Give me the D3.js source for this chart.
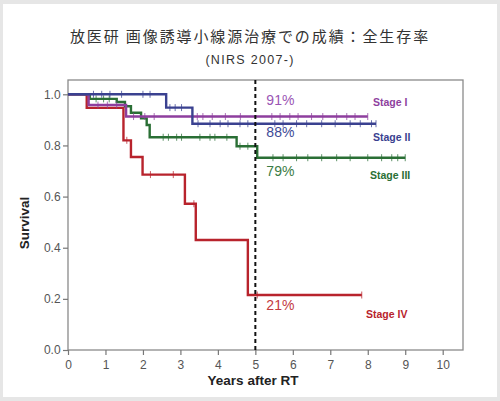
<!DOCTYPE html>
<html>
<head>
<meta charset="utf-8">
<script src="https://cdn.jsdelivr.net/npm/d3@7"></script>
<style>
    html, body { margin: 0; padding: 0; background: #e6e6e6; }
    svg { display: block; }
    .axis_label { font-family: Arial, "Liberation Sans", sans-serif; font-weight: bold; font-size: 13.5px; fill: #222; }
</style>
</head>
<body>
<div id="container"><svg></svg></div>
<script>
let width = 500;
let height = 401;

// Kaplan-Meier steps: event times and survival after each step
let stage1_time = [0, 0.55, 1.55];
let stage1_surv = [1.0, 0.958, 0.913];
let stage1_end = 8.0;
let stage1_censor = [0.8, 1.05, 1.3, 1.75, 2.05, 2.3, 3.45, 3.6, 3.85, 4.2, 4.6, 5.44, 5.66, 5.92, 6.14, 6.5, 6.8, 7.17, 7.44, 7.66, 8.0];

let stage2_time = [0, 2.62, 3.32];
let stage2_surv = [1.0, 0.948, 0.885];
let stage2_end = 8.22;
let stage2_censor = [0.68, 0.9, 1.12, 1.43, 2.0, 2.19, 2.72, 2.86, 3.03, 3.47, 3.79, 4.06, 4.27, 4.59, 4.8, 5.52, 5.74, 6.1, 6.37, 6.77, 7.13, 7.53, 7.8, 8.1, 8.22];

let stage3_time = [0, 0.58, 1.3, 1.52, 1.68, 1.95, 2.1, 2.18, 4.5, 5.05];
let stage3_surv = [1.0, 0.982, 0.97, 0.953, 0.928, 0.906, 0.88, 0.832, 0.797, 0.752];
let stage3_end = 9.0;
let stage3_censor = [0.75, 0.95, 1.1, 2.54, 2.68, 2.9, 3.03, 3.52, 3.79, 3.92, 4.24, 4.59, 4.8, 5.47, 5.74, 6.1, 6.4, 6.77, 7.17, 7.53, 8.0, 8.37, 8.64, 8.8, 9.0];

let stage4_time = [0, 0.5, 1.48, 1.68, 1.99, 3.12, 3.41, 4.8];
let stage4_surv = [1.0, 0.947, 0.82, 0.755, 0.686, 0.572, 0.43, 0.215];
let stage4_end = 7.84;
let stage4_censor = [1.57, 2.2, 2.81, 3.36, 5.05, 7.84];

let stage_names = ['Stage I', 'Stage II', 'Stage III', 'Stage IV'];
let stage_pct = ['91%', '88%', '79%', '21%'];
let stage_colors = ['#8e3f9e', '#3a4190', '#2a6f35', '#b8232c'];
let pct_colors = ['#9a55b4', '#3d4a96', '#3b7c45', '#c33a3f'];

let y_ticks = [0.0, 0.2, 0.4, 0.6, 0.8, 1.0];
let x_ticks = [0, 1, 2, 3, 4, 5, 6, 7, 8, 9, 10];
let landmark = 5;

let title_text = '放医研 画像誘導小線源治療での成績：全生存率';
let subtitle_text = '(NIRS 2007-)';

function surv_at(times, survs, t) {
    let s = survs[0];
    for (var i = 0; i < times.length; i++) {
        if (times[i] <= t) s = survs[i];
    }
    return s;
}

function draw_main() {
    let svg = d3.select('#container').select('svg')
        .attr('width', width)
        .attr('height', height);

    // white card
    svg.append('rect')
        .attr('x', 3).attr('y', 4)
        .attr('width', 494).attr('height', 393)
        .attr('fill', '#fff');

    // title
    svg.append('text')
        .attr('x', 250).attr('y', 42)
        .attr('text-anchor', 'middle')
        .style('font-family', '"Noto Sans CJK JP", sans-serif')
        .style('font-size', '15px')
        .style('letter-spacing', '1.9px')
        .attr('fill', '#333')
        .text(title_text);
    svg.append('text')
        .attr('x', 250).attr('y', 64)
        .attr('text-anchor', 'middle')
        .style('font-family', 'Arial, "Liberation Sans", sans-serif')
        .style('font-size', '12.5px')
        .style('letter-spacing', '1.3px')
        .attr('fill', '#333')
        .text(subtitle_text);

    let x = d3.scaleLinear().domain([0, 10]).range([68, 442.7]);
    let y = d3.scaleLinear().domain([0, 1]).range([350, 94.3]);

    // frame
    let x_max = x.invert(463);
    let y_max = y.invert(80);
    svg.append('rect')
        .attr('x', x(0)).attr('y', y(y_max))
        .attr('width', x(x_max) - x(0)).attr('height', y(0) - y(y_max))
        .attr('fill', 'none')
        .attr('stroke', '#8a8a8a')
        .attr('stroke-width', 1.3);

    // axes
    let axis_x = d3.axisBottom(x).tickValues(x_ticks).tickSize(5).tickFormat(d => d);
    let axis_y = d3.axisLeft(y).tickValues(y_ticks).tickSize(5).tickFormat(d3.format('.1f'));

    let gx = svg.append('g')
        .attr('transform', `translate(0, ${y(0)})`)
        .call(axis_x);
    let gy = svg.append('g')
        .attr('transform', `translate(${x(0)}, 0)`)
        .call(axis_y);
    [gx, gy].forEach(g => {
        g.select('.domain').remove();
        g.selectAll('line').attr('stroke', '#777').attr('stroke-width', 1.2);
        g.selectAll('text')
            .attr('fill', '#555')
            .attr('font-family', 'Arial, "Liberation Sans", sans-serif')
            .attr('font-size', '12px');
    });
    gx.selectAll('text').attr('dy', '0.9em');
    gy.selectAll('text').attr('dx', '0.05em');

    // axis labels
    svg.append('text')
        .attr('class', 'axis_label')
        .attr('x', 253).attr('y', 385)
        .attr('text-anchor', 'middle')
        .text('Years after RT');
    svg.append('text')
        .attr('class', 'axis_label')
        .attr('transform', `translate(29, ${223}) rotate(-90)`)
        .attr('text-anchor', 'middle')
        .text('Survival');

    let stages = [
        [stage1_time, stage1_surv, stage1_end, stage1_censor],
        [stage2_time, stage2_surv, stage2_end, stage2_censor],
        [stage3_time, stage3_surv, stage3_end, stage3_censor],
        [stage4_time, stage4_surv, stage4_end, stage4_censor]
    ];

    let line = d3.line()
        .x(d => x(d[0]))
        .y(d => y(d[1]))
        .curve(d3.curveStepAfter);

    // draw order: red at the back, then green, purple, blue on top
    [3, 2, 0, 1].forEach(k => {
        let st = stages[k];
        let pts = st[0].map((t, i) => [t, st[1][i]]);
        pts.push([st[2], st[1][st[1].length - 1]]);
        let g = svg.append('g');
        g.append('path')
            .datum(pts)
            .attr('d', line)
            .attr('fill', 'none')
            .attr('stroke', stage_colors[k])
            .attr('stroke-width', 2.4)
            .attr('stroke-linejoin', 'miter');
        g.selectAll('line')
            .data(st[3])
            .enter().append('line')
            .attr('x1', d => x(d)).attr('x2', d => x(d))
            .attr('y1', d => y(surv_at(st[0], st[1], d)) - 3.5)
            .attr('y2', d => y(surv_at(st[0], st[1], d)) + 3.5)
            .attr('stroke', stage_colors[k])
            .attr('stroke-opacity', 0.75)
            .attr('stroke-width', 1);
    });

    // 5-year landmark
    svg.append('line')
        .attr('x1', x(landmark)).attr('x2', x(landmark))
        .attr('y1', y(y_max)).attr('y2', y(0))
        .attr('stroke', '#111')
        .attr('stroke-width', 2)
        .attr('stroke-dasharray', '4,3');

    // percent labels at 5 years
    let pct_y = [105, 137, 176, 310];
    stage_pct.forEach((p, k) => {
        svg.append('text')
            .attr('x', x(landmark) + 11).attr('y', pct_y[k])
            .attr('font-family', 'Arial, "Liberation Sans", sans-serif')
            .attr('font-size', '14px')
            .attr('fill', pct_colors[k])
            .text(p);
    });

    // stage labels
    let name_pos = [[373, 106], [373, 141], [370, 179], [366, 318]];
    stage_names.forEach((n, k) => {
        svg.append('text')
            .attr('x', name_pos[k][0]).attr('y', name_pos[k][1])
            .attr('font-family', 'Arial, "Liberation Sans", sans-serif')
            .attr('font-weight', 'bold')
            .attr('font-size', '10.5px')
            .attr('fill', stage_colors[k])
            .text(n);
    });
}

draw_main();
</script>
</body>
</html>
